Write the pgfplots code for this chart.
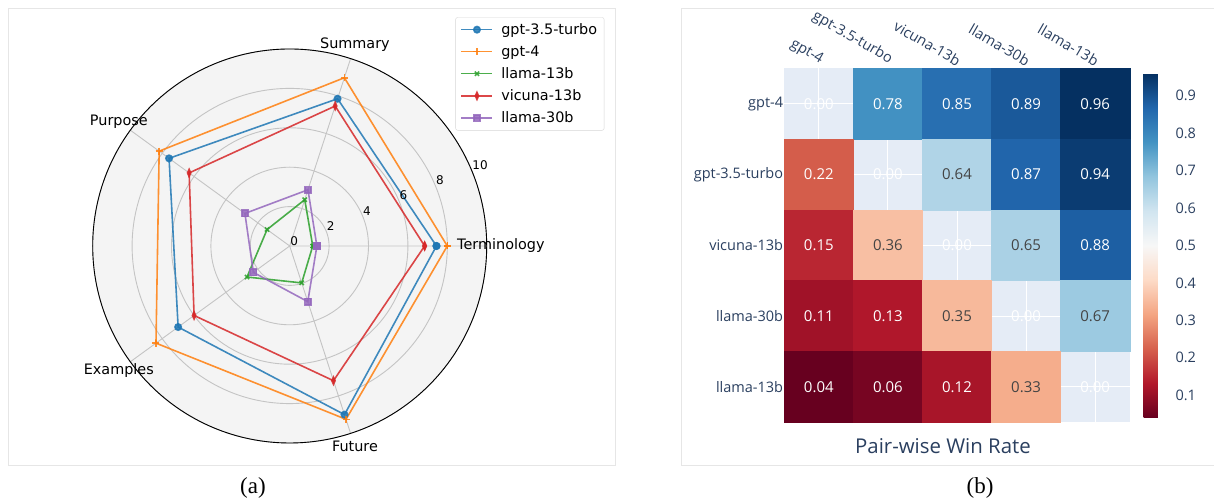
\documentclass[border=0pt]{standalone}
\usepackage{fontspec}
\usepackage{pgfplots}
\usepackage{pgfplotstable}
\pgfplotsset{compat=1.18}
\usepgfplotslibrary{polar}
\newfontfamily\dejavu{DejaVu Sans}
\newfontfamily\osans{Open Sans}
\newfontfamily\capfont{Liberation Serif}
\newcommand\fleg{\dejavu\fontsize{14.4bp}{17bp}\selectfont}
\newcommand\frad{\dejavu\fontsize{12bp}{14bp}\selectfont}
\newcommand\ftick{\osans\fontsize{14.5bp}{17bp}\selectfont}
\newcommand\fcell{\osans\fontsize{15bp}{17bp}\selectfont}
\definecolor{tabblue}{HTML}{1F77B4}
\definecolor{taborange}{HTML}{FF7F0E}
\definecolor{tabgreen}{HTML}{2CA02C}
\definecolor{tabred}{HTML}{D62728}
\definecolor{tabpurple}{HTML}{9467BD}
\definecolor{plotlyfont}{HTML}{2A3F5F}
\definecolor{plotlybg}{HTML}{E5ECF6}
\definecolor{polarbg}{HTML}{F4F4F4}
\definecolor{framegray}{HTML}{E6E6E6}
\definecolor{gridgray}{HTML}{C4C4C4}
\definecolor{darktext}{HTML}{444444}
\definecolor{legframe}{HTML}{D6D6D6}
\begin{document}
\pgfplotstableread{
a r
0 7.45
72 7.86
144 7.57
216 7.00
288 9.00
360 7.45
}\gptthree
\pgfplotstableread{
a r
0 8.00
72 8.98
144 8.19
216 8.39
288 9.25
360 8.00
}\gptfour
\pgfplotstableread{
a r
0 1.17
72 2.47
144 1.42
216 2.68
288 1.97
360 1.17
}\llamathirteen
\pgfplotstableread{
a r
0 6.85
72 7.47
144 6.31
216 6.00
288 7.19
360 6.85
}\vicuna
\pgfplotstableread{
a r
0 1.38
72 3.00
144 2.81
216 2.28
288 2.97
360 1.38
}\llamathirty
\pgfplotstableread{
x y v
0 0 0.00
1 0 0.78
2 0 0.85
3 0 0.89
4 0 0.96
0 1 0.22
1 1 0.00
2 1 0.64
3 1 0.87
4 1 0.94
0 2 0.15
1 2 0.36
2 2 0.00
3 2 0.65
4 2 0.88
0 3 0.11
1 3 0.13
2 3 0.35
3 3 0.00
4 3 0.67
0 4 0.04
1 4 0.06
2 4 0.12
3 4 0.33
4 4 0.00
}\heat
\begin{tikzpicture}[x=1bp,y=1bp]
\useasboundingbox (0,0) rectangle (1214,502);
\draw[framegray, line width=1bp] (8,36) rectangle (615,493);
\draw[framegray, line width=1bp] (1218,493) -- (681.7,493) -- (681.7,36) -- (1218,36);
\fill[polarbg] (289.7,256) circle (197);
\begin{polaraxis}[
  at={(289.7bp,256bp)}, anchor=center,
  scale only axis, width=394bp, height=394bp,
  xmin=0, xmax=360, ymin=0, ymax=10,
  xtick={0,72,144,216,288}, xticklabels={},
  ytick={2,4,6,8,10}, yticklabels={},
  grid=major, major grid style={draw=gridgray, line width=0.9bp},
  major tick length=0,
  x axis line style={black, line width=0.9bp},
  y axis line style={draw=none},
  clip=false,
  legend cell align=left,
  legend image code/.code={\draw[mark repeat=2, mark phase=2] plot coordinates {(0bp,0bp) (15.5bp,0bp) (31bp,0bp)};},
  legend style={at={(1.2985,1.0805)}, anchor=north east, draw=legframe, rounded corners=2bp, fill=white, font=\fleg, row sep=5.8bp, inner xsep=5bp, inner ysep=4bp,
    /tikz/every odd column/.append style={column sep=6bp}},
]
\addplot[color=tabblue, line width=1.6bp, mark=*, mark size=3.2bp, opacity=0.85] table[x=a,y=r] {\gptthree};
\addlegendentry{gpt-3.5-turbo}
\addplot[color=taborange, line width=1.6bp, mark=+, mark size=3.5bp, opacity=0.85] table[x=a,y=r] {\gptfour};
\addlegendentry{gpt-4}
\addplot[color=tabgreen, line width=1.6bp, mark=x, mark size=3bp, opacity=0.85] table[x=a,y=r] {\llamathirteen};
\addlegendentry{llama-13b}
\addplot[color=tabred, line width=1.6bp, mark=diamond*, mark size=3.6bp, mark options={xscale=0.6}, opacity=0.85] table[x=a,y=r] {\vicuna};
\addlegendentry{vicuna-13b}
\addplot[color=tabpurple, line width=1.6bp, mark=square*, mark size=3.2bp, opacity=0.85] table[x=a,y=r] {\llamathirty};
\addlegendentry{llama-30b}
\node[font=\fleg] at (axis cs:0,10.72) {Terminology};
\node[font=\fleg] at (axis cs:72,10.72) {Summary};
\node[font=\fleg] at (axis cs:144,10.72) {Purpose};
\node[font=\fleg] at (axis cs:216,10.72) {Examples};
\node[font=\fleg] at (axis cs:288,10.72) {Future};
\node[font=\frad, anchor=south west, inner sep=0.5bp] at (axis cs:22.5,0) {0};
\node[font=\frad, anchor=south west, inner sep=0.5bp] at (axis cs:22.5,2) {2};
\node[font=\frad, anchor=south west, inner sep=0.5bp] at (axis cs:22.5,4) {4};
\node[font=\frad, anchor=south west, inner sep=0.5bp] at (axis cs:22.5,6) {6};
\node[font=\frad, anchor=south west, inner sep=0.5bp] at (axis cs:22.5,8) {8};
\node[font=\frad, anchor=south west, inner sep=0.5bp] at (axis cs:22.5,10) {10};
\end{polaraxis}
\begin{axis}[
  at={(957bp,256.7bp)}, anchor=center,
  scale only axis, width=345.4bp, height=354bp,
  xmin=-0.5, xmax=4.5, ymin=-0.5, ymax=4.5, y dir=reverse,
  axis line style={draw=none},
  major tick length=0,
  axis background/.style={fill=plotlybg},
  grid=major, major grid style={white, line width=1bp},
  xtick={0,1,2,3,4}, ytick={0,1,2,3,4},
  xticklabels={gpt-4, gpt-3.5-turbo, vicuna-13b, llama-30b, llama-13b},
  yticklabels={gpt-4, gpt-3.5-turbo, vicuna-13b, llama-30b, llama-13b},
  xticklabel pos=upper,
  xticklabel style={rotate=-30, anchor=south east, font=\ftick, text=plotlyfont, inner sep=1bp},
  yticklabel style={anchor=east, font=\ftick, text=plotlyfont, inner sep=1bp},
  colormap={rdbu}{rgb255=(103,0,31) rgb255=(178,24,43) rgb255=(214,96,77) rgb255=(244,165,130) rgb255=(253,219,199) rgb255=(247,247,247) rgb255=(209,229,240) rgb255=(146,197,222) rgb255=(67,147,195) rgb255=(33,102,172) rgb255=(5,48,97)},
  point meta min=0.04, point meta max=0.96,
  /pgf/number format/assume math mode=true,
  colorbar,
  colorbar style={
    at={(1.0406,0.9859)}, anchor=north west,
    scale only axis, width=22.3bp, height=344.4bp,
    axis line style={draw=none}, major tick length=0,
    ytick={0.1,0.2,0.3,0.4,0.5,0.6,0.7,0.8,0.9},
    yticklabel style={font=\ftick, text=plotlyfont, xshift=6bp, /pgf/number format/.cd, fixed, fixed zerofill, precision=1, assume math mode=true},
  },
]
\addplot[scatter, only marks, mark=square*, mark size=34.55bp,
  every mark/.append style={yscale=1.0246},
  scatter/use mapped color={draw=mapped color, fill=mapped color},
  point meta=explicit,
  restrict expr to domain={abs(\thisrow{x}-\thisrow{y})}{0.5:10}]
  table[x=x, y=y, meta=v] {\heat};
\addplot[only marks, mark=none, point meta=explicit,
  nodes near coords={\pgfmathprintnumber[fixed, fixed zerofill, precision=2]{\pgfplotspointmeta}},
  every node near coord/.append style={anchor=center, text=white, font=\fcell},
  restrict expr to domain={\thisrow{v}}{-0.01:0.25}] table[x=x, y=y, meta=v] {\heat};
\addplot[only marks, mark=none, point meta=explicit,
  nodes near coords={\pgfmathprintnumber[fixed, fixed zerofill, precision=2]{\pgfplotspointmeta}},
  every node near coord/.append style={anchor=center, text=white, font=\fcell},
  restrict expr to domain={\thisrow{v}}{0.75:1.01}] table[x=x, y=y, meta=v] {\heat};
\addplot[only marks, mark=none, point meta=explicit,
  nodes near coords={\pgfmathprintnumber[fixed, fixed zerofill, precision=2]{\pgfplotspointmeta}},
  every node near coord/.append style={anchor=center, text=darktext, font=\fcell},
  restrict expr to domain={\thisrow{v}}{0.25:0.75}] table[x=x, y=y, meta=v] {\heat};
\end{axis}
\node[font=\osans\fontsize{20.4bp}{24bp}\selectfont, text=plotlyfont] at (943,56.3) {Pair-wise Win Rate};
\node[font=\capfont\fontsize{23bp}{27bp}\selectfont] at (253,14) {(a)};
\node[font=\capfont\fontsize{23bp}{27bp}\selectfont] at (980,14) {(b)};
\end{tikzpicture}
\end{document}
